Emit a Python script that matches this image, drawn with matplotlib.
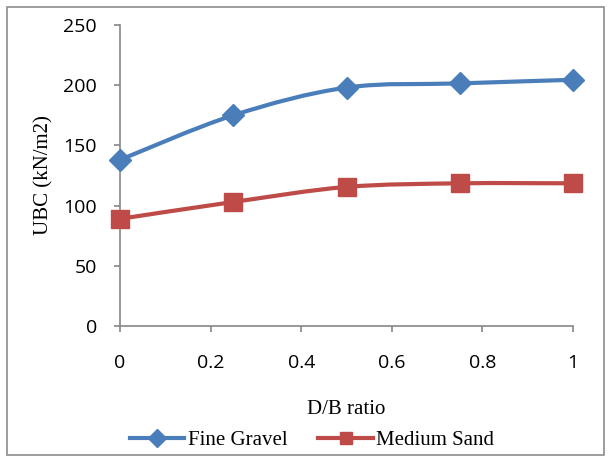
#UBC vs D/B ratio, excel style chart with smoothed lines
import numpy as np
import matplotlib
matplotlib.use('Agg')
import matplotlib.pyplot as plt
from matplotlib.path import Path
from matplotlib.patches import PathPatch, Rectangle
from matplotlib.lines import Line2D

db_ratio = [0, 0.25, 0.5, 0.75, 1]
fine_gravel = [138, 175, 198, 201.5, 204.5]
medium_sand = [89, 103, 115.5, 118.5, 118.5]
series_names = ["Fine Gravel", "Medium Sand"]

blue = '#4a7ebb'
red = '#be4b48'
grey = '#868686'

def smooth_path(x, y):
    #cardinal spline drawn as cubic bezier segments
    pts = np.column_stack([x, y]).astype(float)
    n = len(pts)
    verts = [pts[0]]
    codes = [Path.MOVETO]
    for i in range(n - 1):
        p0 = pts[max(i - 1, 0)]
        p1 = pts[i]
        p2 = pts[i + 1]
        p3 = pts[min(i + 2, n - 1)]
        c1 = p1 + (p2 - p0) / 6.0
        c2 = p2 - (p3 - p1) / 6.0
        verts += [c1, c2, p2]
        codes += [Path.CURVE4] * 3
    return Path(verts, codes)

fig = plt.figure(figsize=(6.08, 4.57), dpi=100)
ax = fig.add_axes([120/608, 1-326/457, (573-120)/608, (326-25)/457])

for ys, col, mk, ms in [(fine_gravel, blue, 'D', 11.5), (medium_sand, red, 's', 13)]:
    ax.add_patch(PathPatch(smooth_path(db_ratio, ys), fill=False, edgecolor=col, lw=3, capstyle='round', zorder=2))
    ax.plot(db_ratio, ys, ls='none', marker=mk, ms=ms, color=col, zorder=3, clip_on=False)

ax.set_xlim(0, 1)
ax.set_ylim(0, 250)
ax.set_xticks([0, 0.2, 0.4, 0.6, 0.8, 1])
ax.set_xticklabels(['0', '0.2', '0.4', '0.6', '0.8', '1'])
ax.set_yticks([0, 50, 100, 150, 200, 250])
for s in ['top', 'right']:
    ax.spines[s].set_visible(False)
for s in ['left', 'bottom']:
    ax.spines[s].set_color(grey)
    ax.spines[s].set_linewidth(1.2)
ax.tick_params(colors=grey, length=4.5, width=1.2, labelcolor='black', labelsize=14)
ax.tick_params(axis='x', pad=16)
ax.tick_params(axis='y', pad=12)
for lab in ax.get_xticklabels() + ax.get_yticklabels():
    lab.set_fontfamily('Open Sans')

ax.set_xlabel('D/B ratio', fontfamily='Liberation Serif', fontsize=15, labelpad=20)
ax.set_ylabel('UBC (kN/m2)', fontfamily='Liberation Serif', fontsize=15, labelpad=7)

handles = [Line2D([], [], color=blue, lw=3, marker='D', ms=9),
           Line2D([], [], color=red, lw=3, marker='s', ms=9)]
fig.legend(handles, series_names, loc='center', bbox_to_anchor=(312/608, 1-440/457), ncol=2,
           frameon=False, prop={'family': 'Liberation Serif', 'size': 15},
           handlelength=2.6, handletextpad=0.15, columnspacing=1.5)

fig.patches.append(Rectangle((7/608, 2/457), 597/608, 448/457, transform=fig.transFigure,
                             fill=False, edgecolor='#8c8c8c', lw=1.2))

plt.savefig('out.png', dpi=100)
